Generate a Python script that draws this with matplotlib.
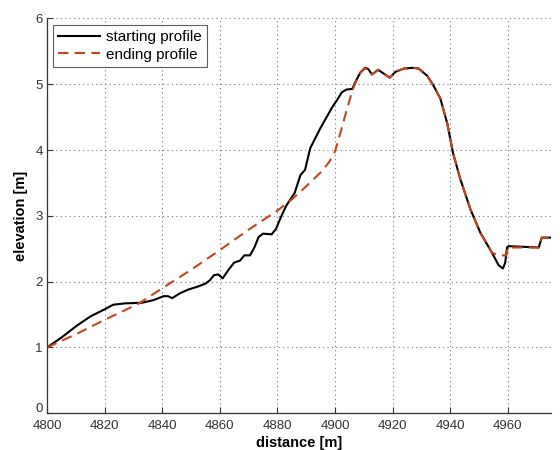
import matplotlib
matplotlib.use("Agg")
import matplotlib.pyplot as plt
from matplotlib.transforms import ScaledTranslation

plt.rcParams['font.family'] = ['Liberation Sans', 'DejaVu Sans']

# starting profile: distance [m], elevation [m]
start_x = [4800, 4805, 4810, 4815, 4820, 4823, 4827, 4833, 4837, 4840.5, 4842,
           4843.5, 4846, 4849, 4852, 4855, 4856.5, 4858, 4859.5, 4861, 4863,
           4865, 4867, 4868.5, 4870.5, 4872, 4873.5, 4875, 4878, 4879.5, 4881,
           4883, 4886, 4888, 4889.6, 4891.4, 4895, 4899, 4900.7, 4902.4, 4904,
           4906, 4907, 4908.8, 4910.5, 4911.6, 4912.8, 4915, 4917, 4919, 4921,
           4924, 4927, 4929, 4932, 4934.2, 4936.6, 4939, 4941, 4943.5, 4947,
           4950.5, 4954.5, 4956.8, 4958.3, 4959.1, 4959.7, 4960.3, 4970.7,
           4971.8, 4975]
start_z = [1.00, 1.15, 1.32, 1.47, 1.58, 1.65, 1.67, 1.68, 1.72, 1.78, 1.78,
           1.75, 1.82, 1.88, 1.92, 1.97, 2.02, 2.10, 2.11, 2.05, 2.18,
           2.29, 2.32, 2.40, 2.40, 2.52, 2.68, 2.73, 2.72, 2.80, 2.96,
           3.15, 3.35, 3.62, 3.70, 4.03, 4.34, 4.65, 4.76, 4.88, 4.92,
           4.93, 5.03, 5.18, 5.25, 5.23, 5.15, 5.22, 5.16, 5.10, 5.19,
           5.24, 5.25, 5.24, 5.13, 4.98, 4.78, 4.40, 3.95, 3.56, 3.10,
           2.74, 2.44, 2.25, 2.20, 2.29, 2.52, 2.54, 2.52,
           2.67, 2.67]

# ending profile: distance [m], elevation [m]
end_x = [4800, 4810, 4820, 4832, 4840, 4850, 4860, 4870, 4880, 4885, 4890,
         4895, 4898, 4900, 4902, 4904, 4906, 4908, 4910, 4911.6, 4912.8,
         4915, 4917, 4919, 4921, 4924, 4927, 4929, 4932, 4934.2, 4936.6,
         4939, 4941, 4943.5, 4947, 4950.5, 4954.5, 4956.8, 4959.5, 4960,
         4970.7, 4971.8, 4975]
end_z = [1.00, 1.20, 1.42, 1.67, 1.90, 2.18, 2.48, 2.79, 3.08, 3.25, 3.45,
         3.66, 3.82, 3.98, 4.28, 4.60, 4.90, 5.12, 5.24, 5.23, 5.15,
         5.22, 5.16, 5.10, 5.19, 5.24, 5.25, 5.24, 5.13, 4.98, 4.78,
         4.40, 3.95, 3.56, 3.10, 2.74, 2.44, 2.40, 2.40, 2.52,
         2.52, 2.67, 2.67]

x_ticks = [4800, 4820, 4840, 4860, 4880, 4900, 4920, 4940, 4960]
y_ticks = [0, 1, 2, 3, 4, 5, 6]

fig = plt.figure(figsize=(5.6, 4.5), dpi=100)
ax = fig.add_axes([0.0839, 0.0816, 0.9001, 0.8773])

ax.plot(start_x, start_z, color='black', lw=1.5, label='starting profile')
ax.plot(end_x, end_z, color='#c4461f', lw=1.5, linestyle=(0, (5, 3)),
        label='ending profile')

ax.set_xlim(4800, 4975)
ax.set_ylim(0, 6)
ax.set_xticks(x_ticks)
ax.set_yticks(y_ticks)
ax.grid(True, color='#777777', linestyle=(0, (1, 3)), linewidth=0.8)
ax.set_axisbelow(True)

for side in ('top', 'right'):
    ax.spines[side].set_visible(False)
for side in ('left', 'bottom'):
    ax.spines[side].set_color('#333333')
    ax.spines[side].set_linewidth(0.9)

ax.tick_params(direction='in', length=4, width=0.8, colors='#333333',
               labelsize=9.5, labelcolor='#333333')
ax.tick_params(axis='x', pad=5)
ax.tick_params(axis='y', pad=3)

# lift the "0" label a little so it sits just above the first x label
zero_label = ax.get_yticklabels()[0]
zero_label.set_transform(zero_label.get_transform()
                         + ScaledTranslation(0, 4 / 72, fig.dpi_scale_trans))

ax.set_xlabel('distance [m]', fontsize=10.5, fontweight='bold', labelpad=3)
ax.set_ylabel('elevation [m]', fontsize=10.5, fontweight='bold', labelpad=5)

leg = ax.legend(loc='upper left', fontsize=11, frameon=True, fancybox=False,
                edgecolor='#333333', borderaxespad=0.4, handlelength=2.7,
                borderpad=0.35, labelspacing=0.25, handletextpad=0.4)
leg.get_frame().set_linewidth(0.8)

fig.savefig('out.png', dpi=100)
